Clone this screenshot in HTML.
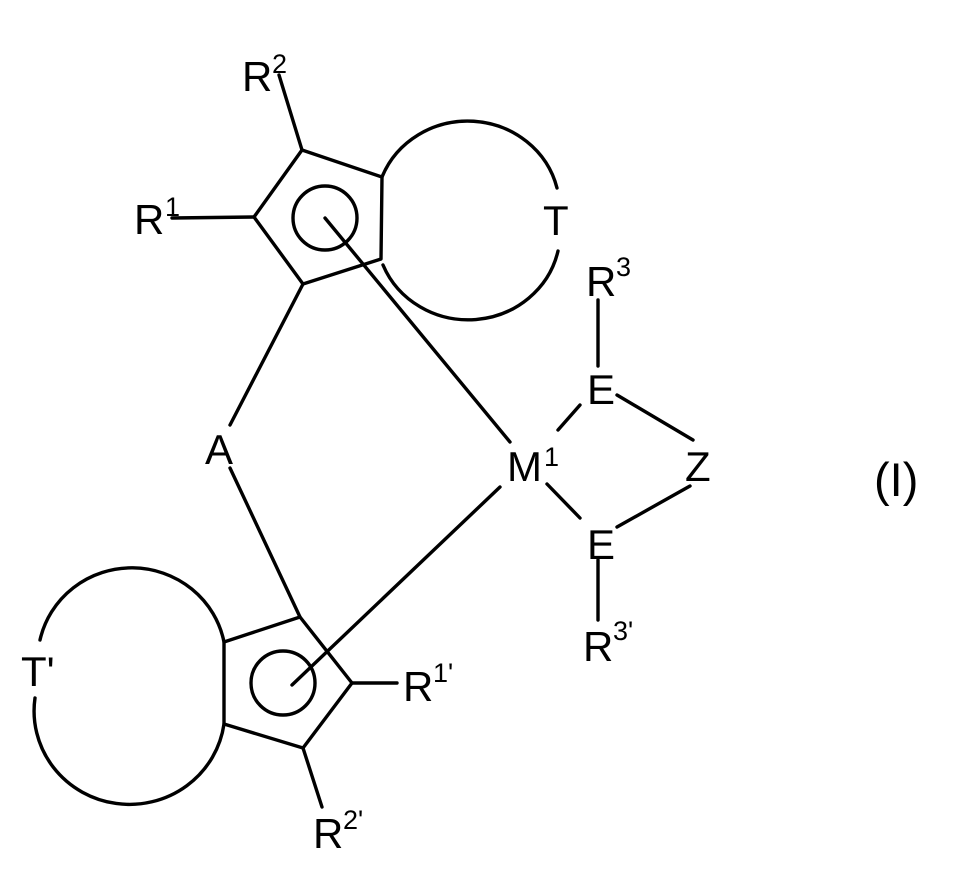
<!DOCTYPE html>
<html><head><meta charset="utf-8"><style>
html,body{margin:0;padding:0;background:#fff;}
svg{display:block;}
text{font-family:"Liberation Sans",Arial,sans-serif;fill:#000;}
</style></head><body>
<svg width="966" height="878" viewBox="0 0 966 878" xmlns="http://www.w3.org/2000/svg">
<g stroke="#000" stroke-width="3.4" fill="none" stroke-linecap="round" stroke-linejoin="round">
<polygon points="302,150 254,217 303,284 381,259 382,177"/>
<circle cx="325" cy="218" r="32"/>
<line x1="279" y1="75" x2="302" y2="150"/>
<line x1="172" y1="218" x2="254" y2="217"/>
<path d="M382,177 A92,88 0 0 1 557,188"/>
<path d="M558,251 A92,88 0 0 1 383,265"/>
<line x1="325" y1="218" x2="510" y2="442"/>
<line x1="303" y1="284" x2="230" y2="425"/>
<polygon points="300,617 352,683 303,748 224,724 224,642"/>
<circle cx="283" cy="683" r="32"/>
<line x1="230" y1="468" x2="300" y2="617"/>
<line x1="292" y1="685" x2="500" y2="487"/>
<line x1="352" y1="683" x2="397" y2="683"/>
<line x1="303" y1="748" x2="322" y2="807"/>
<path d="M224,642 A94,92 0 0 0 40,640"/>
<path d="M35,698 A94,92 0 0 0 224,724"/>
<line x1="598" y1="300" x2="598" y2="366"/>
<line x1="558" y1="430" x2="580" y2="405"/>
<line x1="617" y1="395" x2="693" y2="440"/>
<line x1="547" y1="484" x2="580" y2="518"/>
<line x1="617" y1="527" x2="690" y2="486"/>
<line x1="598" y1="560" x2="598" y2="620"/>
</g>
<g font-size="42">
<text x="242" y="91">R</text><text x="272" y="73" font-size="27">2</text>
<text x="134" y="234">R</text><text x="165" y="216" font-size="27">1</text>
<text x="543" y="235">T</text>
<text x="586" y="296">R</text><text x="616" y="276" font-size="27">3</text>
<text x="587" y="404">E</text>
<text x="507" y="481">M</text><text x="544" y="466" font-size="27">1</text>
<text x="685" y="481">Z</text>
<text x="205" y="464">A</text>
<text x="587" y="559">E</text>
<text x="583" y="661">R</text><text x="613" y="640" font-size="27">3'</text>
<text x="21" y="686">T'</text>
<text x="403" y="701">R</text><text x="433" y="682" font-size="27">1'</text>
<text x="313" y="848">R</text><text x="343" y="829" font-size="27">2'</text>
<text x="874" y="496" font-size="47">(I)</text>
</g>
</svg>
</body></html>
